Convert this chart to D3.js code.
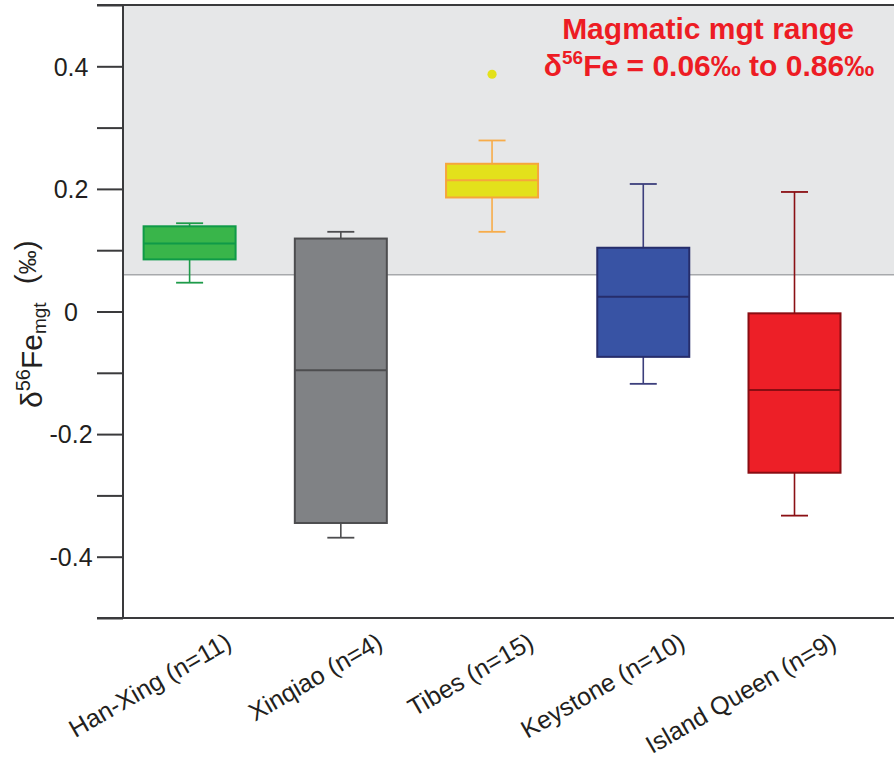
<!DOCTYPE html>
<html>
<head>
<meta charset="utf-8">
<script src="https://cdn.jsdelivr.net/npm/d3@7/dist/d3.min.js"></script>
<style>
  html, body { margin: 0; padding: 0; background: #ffffff; }
  svg { display: block; }
  text { font-family: "Liberation Sans", Arial, Helvetica, sans-serif; }
</style>
</head>
<body>
<svg id="chart" width="894" height="759"></svg>
<script>
// Magnetite δ56Fe by deposit: box-and-whisker summaries
const categories = ["Han-Xing (n=11)", "Xinqiao (n=4)", "Tibes (n=15)", "Keystone (n=10)", "Island Queen (n=9)"];
const whiskerLow  = [0.047, -0.369, 0.130, -0.118, -0.333];
const q1          = [0.085, -0.345, 0.186, -0.074, -0.263];
const median      = [0.111, -0.096, 0.214,  0.024, -0.128];
const q3          = [0.139,  0.119, 0.241,  0.104, -0.003];
const whiskerHigh = [0.144,  0.130, 0.279,  0.208,  0.195];
const outliers    = [[], [], [0.387], [], []];

const fillColors    = ["#39b54a", "#808285", "#e3e11b", "#3853a4", "#ed1f27"];
const strokeColors  = ["#0f9a48", "#4d4d4f", "#f6a63c", "#262d6b", "#8a0d12"];
const whiskerColors = ["#1e9b4a", "#4d4d4f", "#f7ac4a", "#3c3f7c", "#8b1014"];

// Magmatic magnetite range (‰)
const magmaticRange = [0.06, 0.86];

const yTicks = [-0.5, -0.4, -0.3, -0.2, -0.1, 0, 0.1, 0.2, 0.3, 0.4, 0.5];
const yTickLabels = { "-0.4": "-0.4", "-0.2": "-0.2", "0": "0", "0.2": "0.2", "0.4": "0.4" };

const svg = d3.select("#chart");
const W = 894;
const axisX = 123, frameTop = 5, frameBottom = 618, tickLen = 26;
const boxW = 92, capW = 27;

const y = d3.scaleLinear().domain([-0.5, 0.5]).range([frameBottom, frameTop]);
const x = d3.scalePoint().domain(categories).range([189.6, 794.5]);

const rows = categories.map((c, i) => ({
  cat: c, lo: whiskerLow[i], q1: q1[i], med: median[i], q3: q3[i], hi: whiskerHigh[i],
  out: outliers[i], fill: fillColors[i], stroke: strokeColors[i], wc: whiskerColors[i]
}));

// shaded magmatic range band
const bandTop = Math.min(magmaticRange[1], y.domain()[1]);
svg.append("rect")
  .attr("x", axisX).attr("y", y(bandTop))
  .attr("width", W - axisX + 10).attr("height", y(magmaticRange[0]) - y(bandTop))
  .attr("fill", "#e6e7e8");
svg.append("line")
  .attr("x1", axisX).attr("x2", W + 10)
  .attr("y1", y(magmaticRange[0])).attr("y2", y(magmaticRange[0]))
  .attr("stroke", "#a7a9ac").attr("stroke-width", 1.6);

// boxes
const g = svg.append("g").selectAll("g.box").data(rows).join("g").attr("class", "box");

g.append("line") // upper whisker
  .attr("x1", d => x(d.cat)).attr("x2", d => x(d.cat))
  .attr("y1", d => y(d.hi)).attr("y2", d => y(d.q3))
  .attr("stroke", d => d.wc).attr("stroke-width", 1.6);
g.append("line") // lower whisker
  .attr("x1", d => x(d.cat)).attr("x2", d => x(d.cat))
  .attr("y1", d => y(d.q1)).attr("y2", d => y(d.lo))
  .attr("stroke", d => d.wc).attr("stroke-width", 1.6);
g.append("line") // upper cap
  .attr("x1", d => x(d.cat) - capW / 2).attr("x2", d => x(d.cat) + capW / 2)
  .attr("y1", d => y(d.hi)).attr("y2", d => y(d.hi))
  .attr("stroke", d => d.wc).attr("stroke-width", 1.8);
g.append("line") // lower cap
  .attr("x1", d => x(d.cat) - capW / 2).attr("x2", d => x(d.cat) + capW / 2)
  .attr("y1", d => y(d.lo)).attr("y2", d => y(d.lo))
  .attr("stroke", d => d.wc).attr("stroke-width", 1.8);
g.append("rect")
  .attr("x", d => x(d.cat) - boxW / 2).attr("width", boxW)
  .attr("y", d => y(d.q3)).attr("height", d => y(d.q1) - y(d.q3))
  .attr("fill", d => d.fill).attr("stroke", d => d.stroke).attr("stroke-width", 2);
g.append("line") // median
  .attr("x1", d => x(d.cat) - boxW / 2).attr("x2", d => x(d.cat) + boxW / 2)
  .attr("y1", d => y(d.med)).attr("y2", d => y(d.med))
  .attr("stroke", d => d.stroke).attr("stroke-width", 2);
g.selectAll("circle").data(d => d.out.map(v => ({ v, cat: d.cat, fill: d.fill })))
  .join("circle")
  .attr("cx", d => x(d.cat)).attr("cy", d => y(d.v)).attr("r", 4.6)
  .attr("fill", d => d.fill);

// frame lines
const frame = svg.append("g").attr("stroke", "#3a3a3c").attr("stroke-width", 2);
frame.append("line").attr("x1", axisX).attr("x2", axisX).attr("y1", y(0.5)).attr("y2", y(-0.5));
frame.append("line").attr("x1", axisX - tickLen).attr("x2", W + 10).attr("y1", y(0.5)).attr("y2", y(0.5));
frame.append("line").attr("x1", axisX - tickLen).attr("x2", W + 10).attr("y1", y(-0.5)).attr("y2", y(-0.5));

// y axis
const yAxis = svg.append("g").attr("transform", `translate(${axisX},0)`)
  .call(d3.axisLeft(y).tickValues(yTicks).tickSize(tickLen).tickSizeOuter(0)
    .tickFormat(v => yTickLabels[String(+v.toFixed(1))] || ""));
yAxis.select(".domain").remove();
yAxis.selectAll(".tick line").attr("stroke", "#3a3a3c").attr("stroke-width", 2);
yAxis.selectAll(".tick text")
  .attr("x", -52).attr("dy", "0.35em")
  .attr("text-anchor", "middle")
  .attr("font-size", 25).attr("fill", "#231f20");

// x axis labels
const xAxis = svg.append("g").attr("transform", `translate(0,${frameBottom})`)
  .call(d3.axisBottom(x).tickSize(0));
xAxis.select(".domain").remove();
xAxis.selectAll(".tick text")
  .attr("x", 0).attr("y", 0).attr("dy", 0)
  .attr("text-anchor", "end")
  .attr("transform", "translate(43,29) rotate(-30)")
  .attr("font-size", 25).attr("fill", "#231f20");

// y axis title: δ56Fe_mgt (‰)
const yt = svg.append("text")
  .attr("transform", "translate(42,408) rotate(-90)")
  .attr("text-anchor", "start").attr("fill", "#231f20");
yt.append("tspan").attr("font-size", 30).text("δ");
yt.append("tspan").attr("font-size", 20).attr("dy", -12).text("56");
yt.append("tspan").attr("font-size", 30).attr("dy", 12).text("Fe");
yt.append("tspan").attr("font-size", 19).attr("dy", 4).text("mgt");
yt.append("tspan").attr("font-size", 30).attr("dy", -10).attr("dx", 18).text("(");
yt.append("tspan").attr("font-size", 24).text("‰");
yt.append("tspan").attr("font-size", 30).text(")");

// magmatic range annotation
const note = svg.append("g").attr("fill", "#ed1c24").attr("font-weight", "bold");
note.append("text").attr("x", 708).attr("y", 39).attr("text-anchor", "middle")
  .attr("font-size", 30).text("Magmatic mgt range");
const l2 = note.append("text").attr("x", 709).attr("y", 76).attr("text-anchor", "middle")
  .attr("font-size", 30);
l2.append("tspan").text("δ");
l2.append("tspan").attr("font-size", 19).attr("dy", -12).text("56");
l2.append("tspan").attr("dy", 12)
  .text(`Fe = ${magmaticRange[0].toFixed(2)}‰ to ${magmaticRange[1].toFixed(2)}‰`);
</script>
</body>
</html>
